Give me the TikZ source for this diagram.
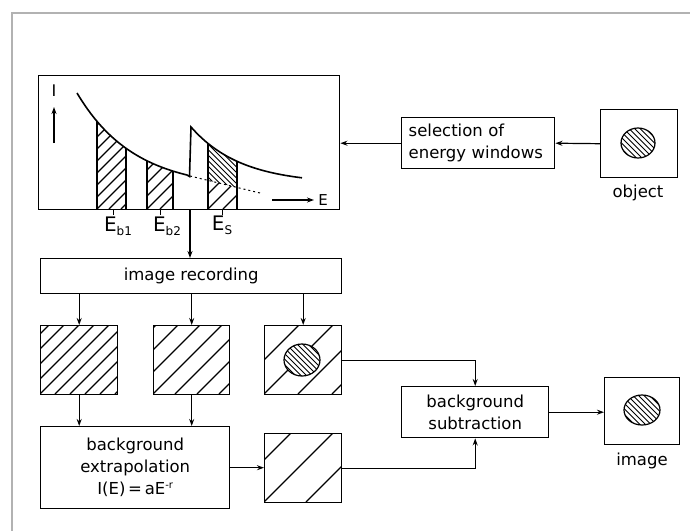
\documentclass[tikz,border=0pt]{standalone}
\usepackage{fontspec}
\setmainfont{DejaVu Sans}
\usetikzlibrary{arrows.meta}
\newcommand\hatchrect[5]{%
  \begin{scope}\clip (#1,#2) rectangle (#3,#4);
  \foreach \k in {-12,...,12} \draw[hatch] ({#1+\k*#5},#4) -- ++(160,-160);
  \end{scope}}
\newcommand\hatchdisc[4]{%
  \fill[white] (#1,#2) ellipse [x radius=#3, y radius=#4];
  \begin{scope}\clip (#1,#2) ellipse [x radius=#3, y radius=#4];
  \foreach \k in {-8,...,8} \draw[hatch, line width=0.9pt] ({#1+\k*5.5-30},{#2-30}) -- ++(60,60);
  \end{scope}
  \draw[line width=1.2pt] (#1,#2) ellipse [x radius=#3, y radius=#4];}
\begin{document}
\begin{tikzpicture}[x=1pt,y=-1pt,
  declare function={fa(\x)=189-96*exp(-0.0175*(\x-77)); fb(\x)=184-57*exp(-0.02*(\x-191)); fd(\x)=176+0.243*(\x-190);},
  box/.style={draw, line width=1.4pt, inner sep=0pt, anchor=north west},
  lbl/.style={font=\fontsize{16.5}{22}\selectfont, align=center, inner sep=0pt},
  arr/.style={line width=1.2pt, -{Stealth[length=7pt,width=5pt]}},
  ln/.style={line width=1.4pt},
  hatch/.style={line width=1.2pt}]
\useasboundingbox (0,0) rectangle (690,531);
\draw[gray!60, line width=1.5pt] (690,13) -- (12,13) -- (12,531);

% spectrum box
\node[box, minimum width=301pt, minimum height=134pt] (spec) at (38,75) {};
% windows
\begin{scope}
  \clip (97,209) -- plot[domain=97:126, samples=20] (\x,{fa(\x)}) -- (126,209) -- cycle;
  \foreach \k in {-12,...,4} \draw[hatch] ({97+\k*12},209) -- ++(150,-150);
\end{scope}
\draw[ln] (97,209) -- (97,{fa(97)}) (126,209) -- (126,{fa(126)});
\begin{scope}
  \clip (147,209) -- plot[domain=147:173, samples=20] (\x,{fa(\x)}) -- (173,209) -- cycle;
  \foreach \k in {-12,...,4} \draw[hatch] ({147+\k*13},209) -- ++(150,-150);
\end{scope}
\draw[ln] (147,209) -- (147,{fa(147)}) (173,209) -- (173,{fa(173)});
\begin{scope}
  \clip (208,{fd(208)}) -- plot[domain=208:237, samples=20] (\x,{fb(\x)}) -- (237,{fd(237)}) -- cycle;
  \foreach \k in {-10,...,10} \draw[hatch, line width=1pt] ({222+\k*5.5-60},120) -- ++(80,80);
\end{scope}
\begin{scope}
  \clip (208,{fd(208)}) -- (237,{fd(237)}) -- (237,209) -- (208,209) -- cycle;
  \foreach \k in {-6,...,4} \draw[hatch] ({208+\k*15},209) -- ++(100,-100);
\end{scope}
\draw[ln] (208,209) -- (208,{fb(208)}) (237,209) -- (237,{fb(237)});
% curve
\draw[line width=1.6pt] plot[domain=77:187, samples=40] (\x,{fa(\x)}) -- (189.5,176.5) -- (191,127)
  -- plot[domain=191:302, samples=40] (\x,{fb(\x)});
\draw[line width=1pt, dash pattern=on 2pt off 3pt] (190,176) -- (260,193);
% axes
\coordinate (ia) at (54,143);
\coordinate (ib) at (54,107);
\draw[arr] (ia) -- (ib);
\node[lbl, font=\fontsize{16}{16}\selectfont] (ilbl) at (54,91) {I};
\coordinate (ea) at (272,200);
\coordinate (eb) at (314,200);
\draw[arr] (ea) -- (eb);
\node[lbl, font=\fontsize{15}{15}\selectfont] (elbl) at (323,200) {E};
% ticks and labels
\draw[line width=1pt] (113,209) -- (113,215) (160,209) -- (160,215) (222,209) -- (222,215);
\node[lbl, font=\fontsize{20}{20}\selectfont] (eb1) at (118,226) {E\raisebox{-4pt}{\fontsize{12}{12}\selectfont b1}};
\node[lbl, font=\fontsize{20}{20}\selectfont] (eb2) at (167,226) {E\raisebox{-4pt}{\fontsize{12}{12}\selectfont b2}};
\node[lbl, font=\fontsize{20}{20}\selectfont] (es) at (222,225) {E\raisebox{-4pt}{\fontsize{12}{12}\selectfont S}};

% selection and object
\node[box, lbl, anchor=north west, minimum width=153pt, minimum height=51pt, text width=139pt, align=left] (sel) at (401,117) {selection of\\energy windows};
\node[box, minimum width=77pt, minimum height=68pt] (obj) at (600,109) {};
\hatchdisc{638}{143}{17}{15}
\node[lbl] (objl) at (638,193) {object};
\draw[arr] (obj.west) -- (sel.east);
\draw[arr] (sel.west) -- (spec.east |- sel.west);

% image recording
\node[box, lbl, anchor=north west, minimum width=301pt, minimum height=35pt] (rec) at (40,258) {image recording};
\draw[arr] (190,209) -- (190,258);

% three boxes
\hatchrect{40}{325}{117}{394}{15}
\node[box, minimum width=77pt, minimum height=69pt] (b1) at (40,325) {};
\hatchrect{153}{325}{229}{394}{22}
\node[box, minimum width=76pt, minimum height=69pt] (b2) at (153,325) {};
\hatchrect{264}{325}{341}{394}{34}
\hatchdisc{302}{360}{18}{16}
\node[box, minimum width=77pt, minimum height=69pt] (b3) at (264,325) {};
\draw[arr] (b1.north |- rec.south) -- (b1.north);
\draw[arr] (b2.north |- rec.south) -- (b2.north);
\draw[arr] (b3.north |- rec.south) -- (b3.north);

% extrapolation
\node[box, lbl, anchor=north west, minimum width=189pt, minimum height=82pt] (ext) at (40,426) {background\\extrapolation\\I(E)\,=\,aE\raisebox{6pt}{\fontsize{10}{10}\selectfont -r}};
\draw[arr] (b1.south) -- (b1.south |- ext.north);
\draw[arr] (b2.south) -- (b2.south |- ext.north);
\hatchrect{264}{433}{341}{502}{42}
\node[box, minimum width=77pt, minimum height=69pt] (b4) at (264,433) {};
\draw[arr] (ext.east) -- (ext.east -| b4.west);

% subtraction and image
\node[box, lbl, anchor=north west, minimum width=147pt, minimum height=51pt] (sub) at (401,386) {background\\subtraction};
\draw[arr] (b3.east) -| (sub.north);
\draw[arr] (b4.east) -| (sub.south);
\node[box, minimum width=75pt, minimum height=67pt] (img) at (604,377) {};
\hatchdisc{642}{410}{18}{15}
\node[lbl] (imgl) at (642,461) {image};
\draw[arr] (sub.east) -- (sub.east -| img.west);
\end{tikzpicture}
\end{document}
